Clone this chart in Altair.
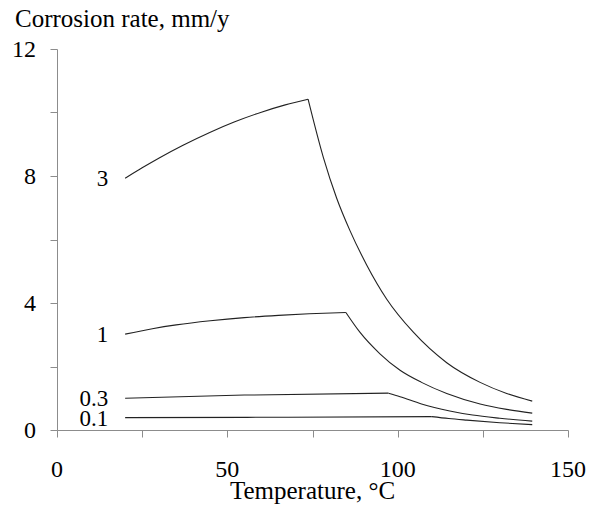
import altair as alt
import pandas as pd

# Curve labels (acid concentration)
series_names = ["3", "1", "0.3", "0.1"]

# Temperature (°C) and corrosion rate (mm/y)
temp_3 = [20, 25, 30, 37, 45, 52, 60, 67, 73.7, 78.2, 82.1, 86.0, 90.9, 96.8, 104.6, 114.4, 124.2, 132, 139.5]
rate_3 = [7.93, 8.26, 8.57, 8.97, 9.38, 9.70, 10.01, 10.24, 10.42, 8.58, 7.30, 6.28, 5.20, 4.12, 3.08, 2.12, 1.50, 1.15, 0.91]

temp_1 = [20, 28, 35, 45, 55, 65, 74, 84.8, 88.9, 94.8, 100.7, 107, 114.4, 124.2, 132, 139.5]
rate_1 = [3.02, 3.19, 3.31, 3.44, 3.54, 3.61, 3.66, 3.70, 3.08, 2.40, 1.88, 1.50, 1.15, 0.82, 0.65, 0.53]

temp_03 = [20, 55, 97.3, 100.7, 107, 115.3, 122, 130, 139.5]
rate_03 = [1.00, 1.10, 1.16, 1.05, 0.82, 0.60, 0.47, 0.37, 0.28]

temp_01 = [20, 60, 110, 115, 120.3, 130, 139.5]
rate_01 = [0.39, 0.40, 0.42, 0.36, 0.31, 0.23, 0.17]

x_ticks = [0, 25, 50, 75, 100, 125, 150]
y_ticks = [0, 2, 4, 6, 8, 10, 12]
x_tick_labels = [0, 50, 100, 150]
y_tick_labels = [0, 4, 8, 12]
x_title = "Temperature, °C"
y_title = "Corrosion rate, mm/y"

FONT = "'Liberation Serif', 'Times New Roman', serif"
AXIS_GRAY = "#8c8c8c"
W, H = 511, 381

rows = []
for name, ts, rs in zip(series_names, [temp_3, temp_1, temp_03, temp_01], [rate_3, rate_1, rate_03, rate_01]):
    peak = rs.index(max(rs))
    for i, (t, r) in enumerate(zip(ts, rs)):
        if i <= peak:
            rows.append({"series": name, "seg": name + "-rise", "T": t, "rate": r})
        if i >= peak:
            rows.append({"series": name, "seg": name + "-fall", "T": t, "rate": r})
df = pd.DataFrame(rows)

lab_df = pd.DataFrame({
    "series": series_names,
    "T": [temp_3[0], temp_1[0], temp_03[0], temp_01[0]],
    "rate": [rate_3[0], rate_1[0], rate_03[0], rate_01[0]],
})

xscale = alt.Scale(domain=[0, 150], nice=False, zero=False)
yscale = alt.Scale(domain=[0, 12], nice=False, zero=False)

x_enc = alt.X(
    "T:Q", scale=xscale,
    axis=alt.Axis(values=x_ticks, labels=False, title=None, tickSize=7,
                  tickColor=AXIS_GRAY, domainColor=AXIS_GRAY, grid=False),
)
y_enc = alt.Y(
    "rate:Q", scale=yscale,
    axis=alt.Axis(values=y_ticks, labels=False, title=None, tickSize=7,
                  tickColor=AXIS_GRAY, domainColor=AXIS_GRAY, grid=False),
)

lines = alt.Chart(df).mark_line(color="#222222", strokeWidth=1.1, interpolate="monotone").encode(
    x=x_enc, y=y_enc, detail="seg:N"
)

labels = alt.Chart(lab_df).mark_text(
    align="right", baseline="middle", dx=-17, dy=1, font=FONT, fontSize=23, color="black"
).encode(x="T:Q", y="rate:Q", text="series:N")

xlab = alt.Chart(pd.DataFrame({"v": x_tick_labels})).mark_text(
    align="center", baseline="alphabetic", font=FONT, fontSize=24, color="black"
).encode(x=alt.X("v:Q", scale=xscale), y=alt.value(H + 47), text="v:Q")

ylab = alt.Chart(pd.DataFrame({"v": y_tick_labels})).mark_text(
    align="right", baseline="middle", dy=1, font=FONT, fontSize=24, color="black"
).encode(y=alt.Y("v:Q", scale=yscale), x=alt.value(-21), text="v:Q")

xt = alt.Chart(pd.DataFrame({"t": [x_title]})).mark_text(
    align="center", baseline="alphabetic", font=FONT, fontSize=25, color="black"
).encode(x=alt.value(W / 2), y=alt.value(H + 69), text="t:N")

yt = alt.Chart(pd.DataFrame({"t": [y_title]})).mark_text(
    align="left", baseline="alphabetic", font=FONT, fontSize=25, color="black"
).encode(x=alt.value(-42), y=alt.value(-22), text="t:N")

chart = alt.layer(lines, labels, xlab, ylab, xt, yt).properties(
    width=W, height=H,
    autosize=alt.AutoSizeParams(type="none"),
    padding={"left": 57, "top": 49, "right": 21, "bottom": 76},
).configure(background="white").configure_view(stroke=None)

chart.save("out.html", embed_options={"renderer": "svg", "actions": False})
